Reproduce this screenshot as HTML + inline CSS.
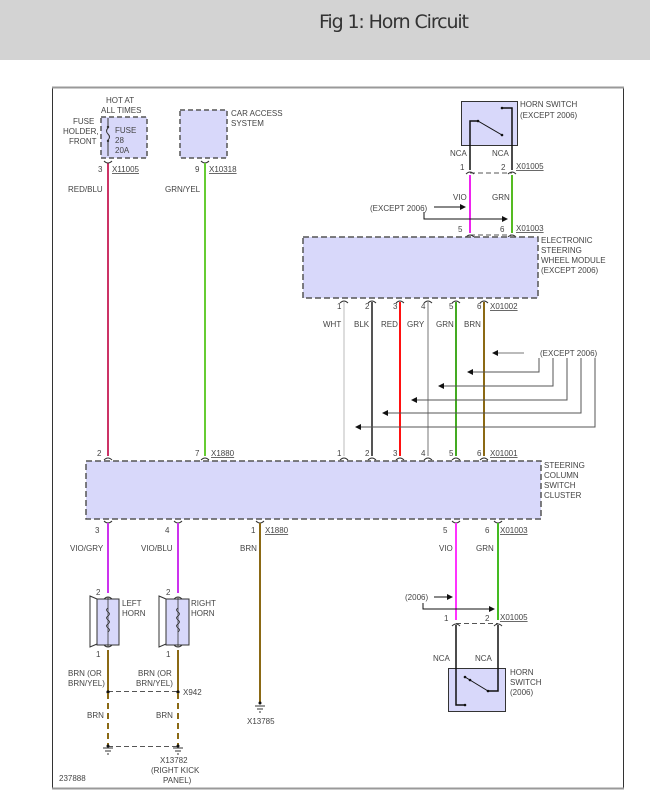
<!DOCTYPE html>
<html><head><meta charset="utf-8"><style>
html,body{margin:0;padding:0;background:#fff;width:650px;height:809px;overflow:hidden}
svg{display:block}
text{font-family:"Liberation Sans",sans-serif;font-size:8px;fill:#444}
.u{text-decoration:underline}
</style></head><body>
<svg width="650" height="809" viewBox="0 0 650 809" xmlns="http://www.w3.org/2000/svg">
<defs>
<marker id="ah" markerWidth="6" markerHeight="6" refX="5" refY="3" orient="auto" markerUnits="userSpaceOnUse"><path d="M0,0 L6,3 L0,6 z" fill="#111"/></marker>
</defs>
<rect x="0" y="0" width="650" height="60" fill="#d3d3d3"/>
<text x="319" y="28" style="font-size:19px;fill:#333;font-family:'DejaVu Sans','Liberation Sans',sans-serif" textLength="150">Fig 1: Horn Circuit</text>
<rect x="52.5" y="87.5" width="571" height="701" fill="#fff" stroke="#333" stroke-width="1"/>
<line x1="52" y1="87.5" x2="624" y2="87.5" stroke="#999" stroke-width="2"/>
<line x1="52" y1="788.5" x2="624" y2="788.5" stroke="#999" stroke-width="2"/>

<!-- fuse -->
<text x="106" y="103">HOT AT</text><text x="101" y="113">ALL TIMES</text>
<text x="73" y="124">FUSE</text><text x="63" y="134">HOLDER,</text><text x="69" y="144">FRONT</text>
<rect x="101" y="117" width="46" height="41" fill="#d8d8fa" stroke="#555" stroke-width="1.5" stroke-dasharray="5,3"/>
<path d="M108,118 v10 q-3,3 0,6 q3,3 0,6 v16" fill="none" stroke="#333" stroke-width="1"/>
<circle cx="108" cy="127" r="1.2" fill="#333"/><circle cx="108" cy="141" r="1.2" fill="#333"/>
<text x="115" y="133">FUSE</text><text x="115" y="143">28</text><text x="115" y="153">20A</text>
<text x="98" y="172">3</text><text x="112" y="172" class="u">X11005</text>
<line x1="108" y1="163" x2="108" y2="456" stroke="#cc3366" stroke-width="2"/>
<path d="M104,161 q4,4 8,0" fill="none" stroke="#333"/>
<text x="68" y="192">RED/BLU</text>

<!-- car access -->
<rect x="180" y="110" width="47" height="48" fill="#d8d8fa" stroke="#555" stroke-width="1.5" stroke-dasharray="5,3"/>
<text x="231" y="116">CAR ACCESS</text><text x="231" y="126">SYSTEM</text>
<text x="195" y="172">9</text><text x="209" y="172" class="u">X10318</text>
<path d="M201,161 q4,4 8,0" fill="none" stroke="#333"/>
<line x1="205" y1="163" x2="205" y2="456" stroke="#66cc33" stroke-width="2"/>
<text x="165" y="192">GRN/YEL</text>

<!-- horn switch except 2006 -->
<rect x="461.5" y="101.5" width="56" height="44" fill="#d8d8fa" stroke="#333"/>
<text x="520" y="107">HORN SWITCH</text><text x="520" y="118">(EXCEPT 2006)</text>
<path d="M470,170 V121 H478" fill="none" stroke="#111" stroke-width="1.5"/>
<path d="M478,121 L502,135" stroke="#111" stroke-width="1"/>
<circle cx="478" cy="121" r="1.3" fill="#111"/><circle cx="502" cy="135" r="1.3" fill="#111"/>
<path d="M512,170 V108 H502" fill="none" stroke="#111" stroke-width="1.5"/><circle cx="502" cy="108" r="1.3" fill="#111"/>
<text x="450" y="156">NCA</text><text x="492" y="156">NCA</text>
<text x="460" y="170">1</text><text x="501" y="170">2</text><text x="516" y="169" class="u">X01005</text>
<line x1="470" y1="173" x2="512" y2="173" stroke="#555" stroke-dasharray="5,3"/>
<path d="M466,174 q4,-4 8,0 M508,174 q4,-4 8,0" fill="none" stroke="#333"/>
<line x1="470" y1="175" x2="470" y2="233" stroke="#ee22ee" stroke-width="2"/>
<line x1="512" y1="175" x2="512" y2="233" stroke="#55bb22" stroke-width="2"/>
<text x="453" y="200">VIO</text><text x="492" y="200">GRN</text>
<text x="370" y="211">(EXCEPT 2006)</text>
<line x1="434" y1="207" x2="465" y2="207" stroke="#111" marker-end="url(#ah)"/>
<path d="M424,212 V219 H507" fill="none" stroke="#111" marker-end="url(#ah)"/>
<text x="458" y="232">5</text><text x="500" y="232">6</text><text x="516" y="231" class="u">X01003</text>
<line x1="470" y1="235" x2="512" y2="235" stroke="#555" stroke-dasharray="5,3"/>
<path d="M466,237 q4,-4 8,0 M508,237 q4,-4 8,0" fill="none" stroke="#333"/>

<!-- ESWM -->
<rect x="303" y="237" width="235" height="61" fill="#d8d8fa" stroke="#555" stroke-width="1.5" stroke-dasharray="6,3"/>
<text x="541" y="243">ELECTRONIC</text><text x="541" y="253">STEERING</text><text x="541" y="263">WHEEL MODULE</text><text x="541" y="273">(EXCEPT 2006)</text>
<text x="337" y="309">1</text><text x="365" y="309">2</text><text x="393" y="309">3</text><text x="421" y="309">4</text><text x="449" y="309">5</text><text x="477" y="309">6</text>
<text x="490" y="309" class="u">X01002</text>
<path d="M340,303 q4,-4 8,0 M368,303 q4,-4 8,0 M396,303 q4,-4 8,0 M424,303 q4,-4 8,0 M452,303 q4,-4 8,0 M480,303 q4,-4 8,0" fill="none" stroke="#333"/>
<line x1="344" y1="302" x2="344" y2="456" stroke="#dddddd" stroke-width="2"/>
<line x1="372" y1="302" x2="372" y2="456" stroke="#555" stroke-width="2"/>
<line x1="400" y1="302" x2="400" y2="456" stroke="#ff1111" stroke-width="2"/>
<line x1="428" y1="302" x2="428" y2="456" stroke="#bbbbbb" stroke-width="2"/>
<line x1="456" y1="302" x2="456" y2="456" stroke="#44aa22" stroke-width="2"/>
<line x1="484" y1="302" x2="484" y2="456" stroke="#8b6914" stroke-width="2"/>
<text x="323" y="327">WHT</text><text x="354" y="327">BLK</text><text x="381" y="327">RED</text><text x="407" y="327">GRY</text><text x="436" y="327">GRN</text><text x="464" y="327">BRN</text>

<text x="540" y="356">(EXCEPT 2006)</text>
<line x1="524" y1="353" x2="493" y2="353" stroke="#777" stroke-width="1" marker-end="url(#ah)"/>
<g fill="none" stroke="#555" stroke-width="1">
<path d="M539,358 V372 H468" marker-end="url(#ah)"/>
<path d="M553,358 V386 H439" marker-end="url(#ah)"/>
<path d="M567,358 V400 H412" marker-end="url(#ah)"/>
<path d="M581,358 V413 H383" marker-end="url(#ah)"/>
<path d="M595,358 V427 H356" marker-end="url(#ah)"/>
</g>

<!-- steering column -->
<text x="97" y="456">2</text><text x="195" y="456">7</text><text x="211" y="456" class="u">X1880</text>
<text x="337" y="456">1</text><text x="365" y="456">2</text><text x="393" y="456">3</text><text x="421" y="456">4</text><text x="449" y="456">5</text><text x="477" y="456">6</text>
<text x="490" y="456" class="u">X01001</text>
<path d="M104,460 q4,-4 8,0 M201,460 q4,-4 8,0 M340,460 q4,-4 8,0 M368,460 q4,-4 8,0 M396,460 q4,-4 8,0 M424,460 q4,-4 8,0 M452,460 q4,-4 8,0 M480,460 q4,-4 8,0" fill="none" stroke="#333"/>
<rect x="86" y="461" width="455" height="58" fill="#d8d8fa" stroke="#555" stroke-width="1.5" stroke-dasharray="6,3"/>
<text x="544" y="468">STEERING</text><text x="544" y="478">COLUMN</text><text x="544" y="488">SWITCH</text><text x="544" y="498">CLUSTER</text>

<path d="M104,521 q4,4 8,0 M174,521 q4,4 8,0 M256,521 q4,4 8,0 M452,521 q4,4 8,0 M494,521 q4,4 8,0" fill="none" stroke="#333"/>
<text x="95" y="533">3</text><text x="165" y="533">4</text><text x="251" y="533">1</text><text x="265" y="533" class="u">X1880</text>
<text x="443" y="533">5</text><text x="485" y="533">6</text><text x="500" y="533" class="u">X01003</text>
<line x1="108" y1="523" x2="108" y2="593" stroke="#cc33ee" stroke-width="2"/>
<line x1="178" y1="523" x2="178" y2="593" stroke="#cc33ee" stroke-width="2"/>
<line x1="260" y1="523" x2="260" y2="703" stroke="#8b6914" stroke-width="2"/>
<text x="70" y="551">VIO/GRY</text><text x="141" y="551">VIO/BLU</text><text x="240" y="551">BRN</text>

<!-- horns -->
<g>
<path d="M90,596 L97,599 V644 L90,647 z" fill="#fff" stroke="#333"/>
<rect x="97" y="599" width="22" height="46" fill="#d8d8fa" stroke="#333"/>
<path d="M108,597 v50 M108,608 q-3,2 0,4 q3,2 0,4 q-3,2 0,4 q3,2 0,4 q-3,2 0,4 q3,2 0,4" fill="none" stroke="#333" stroke-width="0.8"/>
<path d="M104,599 q4,-4 8,0 M104,645 q4,4 8,0" fill="none" stroke="#333"/>
<text x="96" y="595">2</text><text x="96" y="657">1</text>
<text x="122" y="606">LEFT</text><text x="122" y="616">HORN</text>
</g>
<g>
<path d="M159,596 L166,599 V644 L159,647 z" fill="#fff" stroke="#333"/>
<rect x="166" y="599" width="23" height="46" fill="#d8d8fa" stroke="#333"/>
<path d="M178,597 v50 M178,608 q-3,2 0,4 q3,2 0,4 q-3,2 0,4 q3,2 0,4 q-3,2 0,4 q3,2 0,4" fill="none" stroke="#333" stroke-width="0.8"/>
<path d="M174,599 q4,-4 8,0 M174,645 q4,4 8,0" fill="none" stroke="#333"/>
<text x="166" y="595">2</text><text x="166" y="657">1</text>
<text x="191" y="606">RIGHT</text><text x="191" y="616">HORN</text>
</g>
<line x1="108" y1="650" x2="108" y2="692" stroke="#8b6914" stroke-width="2"/>
<line x1="178" y1="650" x2="178" y2="692" stroke="#8b6914" stroke-width="2"/>
<text x="68" y="676">BRN (OR</text><text x="68" y="686">BRN/YEL)</text>
<text x="138" y="676">BRN (OR</text><text x="136" y="686">BRN/YEL)</text>
<line x1="108" y1="691.5" x2="178" y2="691.5" stroke="#555" stroke-dasharray="5,3"/>
<circle cx="108" cy="692" r="1.6" fill="#111"/><circle cx="178" cy="692" r="1.6" fill="#111"/>
<text x="183" y="695">X942</text>
<line x1="108" y1="693" x2="108" y2="746" stroke="#8b6914" stroke-width="2" stroke-dasharray="6,4"/>
<line x1="178" y1="693" x2="178" y2="746" stroke="#8b6914" stroke-width="2" stroke-dasharray="6,4"/>
<text x="87" y="718">BRN</text><text x="156" y="718">BRN</text>
<line x1="108" y1="746.5" x2="178" y2="746.5" stroke="#555" stroke-dasharray="5,3"/>
<g stroke="#333">
<path d="M103,748 h10 M105,751 h6 M107,754 h2"/>
<path d="M173,748 h10 M175,751 h6 M177,754 h2"/>
<path d="M255,706 h10 M257,709 h6 M259,712 h2"/>
</g>
<circle cx="108" cy="746" r="1.5" fill="#111"/><circle cx="178" cy="746" r="1.5" fill="#111"/><circle cx="260" cy="703" r="1.5" fill="#111"/>
<text x="160" y="763">X13782</text><text x="151" y="773">(RIGHT KICK</text><text x="163" y="783">PANEL)</text>
<text x="247" y="724">X13785</text>
<text x="59" y="781">237888</text>

<!-- bottom right -->
<line x1="456" y1="523" x2="456" y2="620" stroke="#ff33ff" stroke-width="2"/>
<line x1="498" y1="523" x2="498" y2="620" stroke="#44bb22" stroke-width="2"/>
<text x="439" y="551">VIO</text><text x="476" y="551">GRN</text>
<text x="405" y="600">(2006)</text>
<line x1="434" y1="597" x2="452" y2="597" stroke="#111" marker-end="url(#ah)"/>
<path d="M423,603 V609 H494" fill="none" stroke="#111" marker-end="url(#ah)"/>
<text x="444" y="621">1</text><text x="485" y="621">2</text><text x="500" y="620" class="u">X01005</text>
<line x1="456" y1="623.5" x2="498" y2="623.5" stroke="#555" stroke-dasharray="5,3"/>
<path d="M452,626 q4,-4 8,0 M494,626 q4,-4 8,0" fill="none" stroke="#333"/>
<text x="433" y="661">NCA</text><text x="475" y="661">NCA</text>
<rect x="448.5" y="668.5" width="57" height="43" fill="#d8d8fa" stroke="#333"/>
<path d="M456,625 V705 H465" fill="none" stroke="#111" stroke-width="1.5"/><circle cx="465" cy="705" r="1.3" fill="#111"/>
<path d="M498,625 V691 H488" fill="none" stroke="#111" stroke-width="1.5"/>
<path d="M465,677 L488,691" stroke="#111"/><circle cx="465" cy="677" r="1.3" fill="#111"/><circle cx="470" cy="680" r="1.3" fill="#111"/><circle cx="488" cy="691" r="1.3" fill="#111"/>
<text x="510" y="675">HORN</text><text x="510" y="685">SWITCH</text><text x="510" y="695">(2006)</text>
</svg>
</body></html>
